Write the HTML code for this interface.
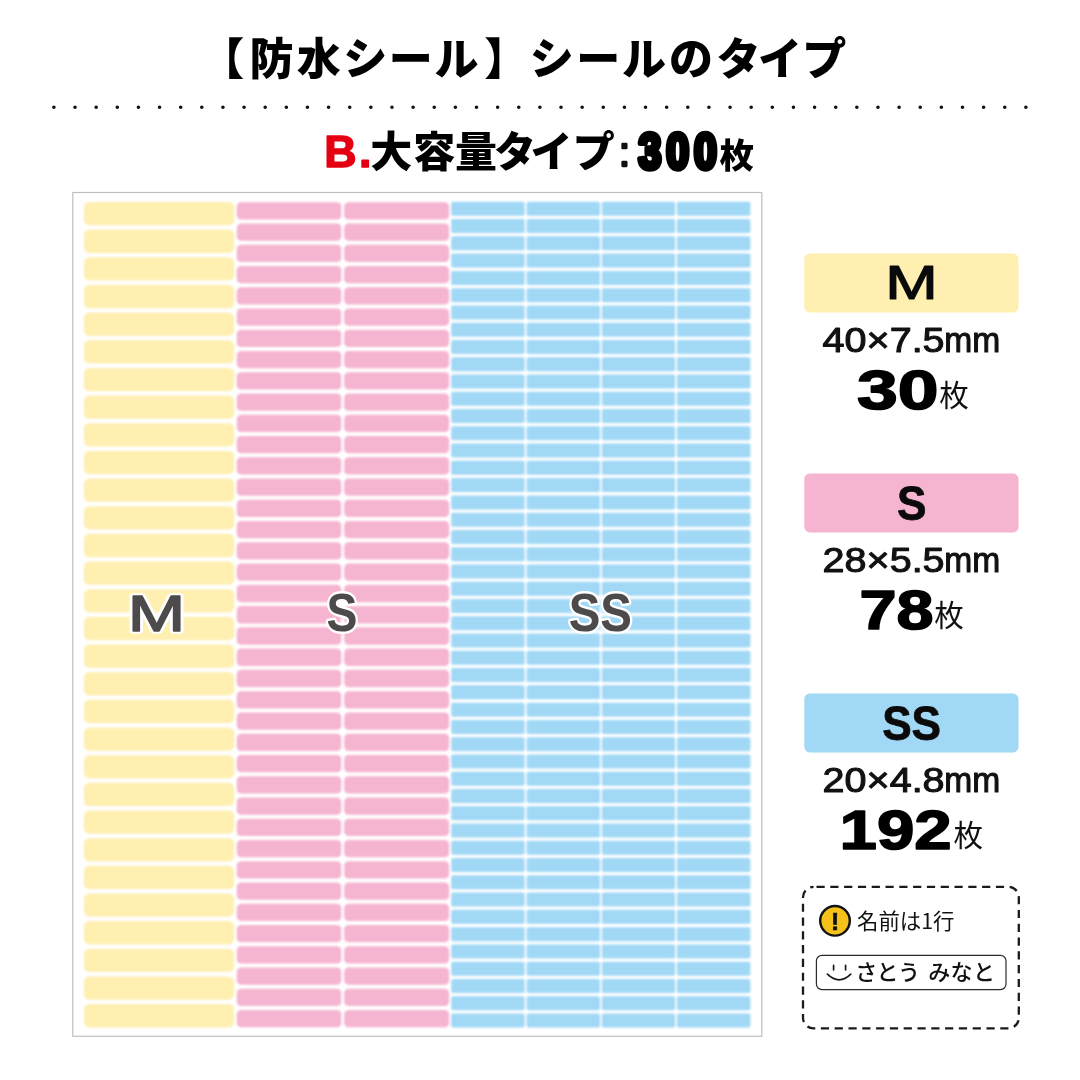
<!DOCTYPE html>
<html lang="ja"><head><meta charset="utf-8"><title>【防水シール】シールのタイプ</title>
<style>html,body{margin:0;padding:0;background:#fff}body{width:1080px;height:1080px;overflow:hidden}svg{display:block}text{font-family:"Liberation Sans", "Noto Sans CJK JP", sans-serif}.jp{font-family:"Noto Sans CJK JP", "Liberation Sans", sans-serif}.ls,.ls text{font-family:"Liberation Sans",sans-serif}.y{fill:#FFEFB0}.p{fill:#F5B4D0}.b{fill:#A0D8F6}</style></head><body>
<svg width="1080" height="1080" viewBox="0 0 1080 1080">
<rect width="1080" height="1080" fill="#fff"/>
<g id="title" class="jp" font-weight="900" fill="#000">
<text id="t_title" text-anchor="middle" x="222.2 271.4 318.7 365.3 410.8 456.5 506.3 551.7 598.3 643.9 691 738.5 779.9 824.2" y="75.4" font-size="44">【防水シール】シールのタイプ</text>
</g>
<line id="dots" x1="53.9" y1="107.2" x2="1026.5" y2="107.2" stroke="#111" stroke-width="3.6" stroke-linecap="round" stroke-dasharray="0 21.13"/>
<g id="sub" font-weight="900">
<text id="t_b" x="324.2" y="166.8" font-size="44.8" font-weight="700" fill="#E40011" stroke="#E40011" stroke-width="1.5" stroke-linejoin="round" letter-spacing="2.4" class="ls">B.</text>
<text id="t_sub" class="jp" text-anchor="middle" x="391.3 434.2 476 515 551.6 593.8" y="167" font-size="42" fill="#000">大容量タイプ</text>
<text id="t_colon" class="ls" x="624.4" y="165.85" font-size="41" font-weight="400" text-anchor="middle" fill="#111" stroke="#111" stroke-width="2.3" stroke-linejoin="round">:</text>
<text id="t_300" transform="translate(638.4,169.1) scale(0.822,1)" font-size="49.9" letter-spacing="6.07" font-weight="700" fill="#000" stroke="#000" stroke-width="5.6" stroke-linejoin="round" class="ls">300</text>
<text id="t_mai" class="jp" x="719.4" y="168.2" font-size="34.4" fill="#000">枚</text>
</g>
<g id="sheet">
<rect x="72.8" y="192.5" width="689" height="843.8" fill="#fff" stroke="#BFBFBF" stroke-width="1.2"/>
<defs><filter id="soft" x="-2%" y="-2%" width="104%" height="104%"><feGaussianBlur stdDeviation="0.8"/></filter></defs>
<g filter="url(#soft)">
<g class="y">
<rect x="83.8" y="201.95" width="150.4" height="23.3" rx="5.6"/>
<rect x="83.8" y="229.61" width="150.4" height="23.3" rx="5.6"/>
<rect x="83.8" y="257.27" width="150.4" height="23.3" rx="5.6"/>
<rect x="83.8" y="284.93" width="150.4" height="23.3" rx="5.6"/>
<rect x="83.8" y="312.59" width="150.4" height="23.3" rx="5.6"/>
<rect x="83.8" y="340.25" width="150.4" height="23.3" rx="5.6"/>
<rect x="83.8" y="367.91" width="150.4" height="23.3" rx="5.6"/>
<rect x="83.8" y="395.57" width="150.4" height="23.3" rx="5.6"/>
<rect x="83.8" y="423.23" width="150.4" height="23.3" rx="5.6"/>
<rect x="83.8" y="450.89" width="150.4" height="23.3" rx="5.6"/>
<rect x="83.8" y="478.55" width="150.4" height="23.3" rx="5.6"/>
<rect x="83.8" y="506.21" width="150.4" height="23.3" rx="5.6"/>
<rect x="83.8" y="533.87" width="150.4" height="23.3" rx="5.6"/>
<rect x="83.8" y="561.53" width="150.4" height="23.3" rx="5.6"/>
<rect x="83.8" y="589.19" width="150.4" height="23.3" rx="5.6"/>
<rect x="83.8" y="616.85" width="150.4" height="23.3" rx="5.6"/>
<rect x="83.8" y="644.51" width="150.4" height="23.3" rx="5.6"/>
<rect x="83.8" y="672.17" width="150.4" height="23.3" rx="5.6"/>
<rect x="83.8" y="699.83" width="150.4" height="23.3" rx="5.6"/>
<rect x="83.8" y="727.49" width="150.4" height="23.3" rx="5.6"/>
<rect x="83.8" y="755.15" width="150.4" height="23.3" rx="5.6"/>
<rect x="83.8" y="782.81" width="150.4" height="23.3" rx="5.6"/>
<rect x="83.8" y="810.47" width="150.4" height="23.3" rx="5.6"/>
<rect x="83.8" y="838.13" width="150.4" height="23.3" rx="5.6"/>
<rect x="83.8" y="865.79" width="150.4" height="23.3" rx="5.6"/>
<rect x="83.8" y="893.45" width="150.4" height="23.3" rx="5.6"/>
<rect x="83.8" y="921.11" width="150.4" height="23.3" rx="5.6"/>
<rect x="83.8" y="948.77" width="150.4" height="23.3" rx="5.6"/>
<rect x="83.8" y="976.43" width="150.4" height="23.3" rx="5.6"/>
<rect x="83.8" y="1004.09" width="150.4" height="23.3" rx="5.6"/>
</g><g class="p">
<rect x="236.8" y="202.15" width="104.5" height="17.3" rx="4.3"/><rect x="344.2" y="202.15" width="104.9" height="17.3" rx="4.3"/>
<rect x="236.8" y="223.41" width="104.5" height="17.3" rx="4.3"/><rect x="344.2" y="223.41" width="104.9" height="17.3" rx="4.3"/>
<rect x="236.8" y="244.67" width="104.5" height="17.3" rx="4.3"/><rect x="344.2" y="244.67" width="104.9" height="17.3" rx="4.3"/>
<rect x="236.8" y="265.93" width="104.5" height="17.3" rx="4.3"/><rect x="344.2" y="265.93" width="104.9" height="17.3" rx="4.3"/>
<rect x="236.8" y="287.19" width="104.5" height="17.3" rx="4.3"/><rect x="344.2" y="287.19" width="104.9" height="17.3" rx="4.3"/>
<rect x="236.8" y="308.45" width="104.5" height="17.3" rx="4.3"/><rect x="344.2" y="308.45" width="104.9" height="17.3" rx="4.3"/>
<rect x="236.8" y="329.71" width="104.5" height="17.3" rx="4.3"/><rect x="344.2" y="329.71" width="104.9" height="17.3" rx="4.3"/>
<rect x="236.8" y="350.97" width="104.5" height="17.3" rx="4.3"/><rect x="344.2" y="350.97" width="104.9" height="17.3" rx="4.3"/>
<rect x="236.8" y="372.23" width="104.5" height="17.3" rx="4.3"/><rect x="344.2" y="372.23" width="104.9" height="17.3" rx="4.3"/>
<rect x="236.8" y="393.49" width="104.5" height="17.3" rx="4.3"/><rect x="344.2" y="393.49" width="104.9" height="17.3" rx="4.3"/>
<rect x="236.8" y="414.75" width="104.5" height="17.3" rx="4.3"/><rect x="344.2" y="414.75" width="104.9" height="17.3" rx="4.3"/>
<rect x="236.8" y="436.01" width="104.5" height="17.3" rx="4.3"/><rect x="344.2" y="436.01" width="104.9" height="17.3" rx="4.3"/>
<rect x="236.8" y="457.27" width="104.5" height="17.3" rx="4.3"/><rect x="344.2" y="457.27" width="104.9" height="17.3" rx="4.3"/>
<rect x="236.8" y="478.53" width="104.5" height="17.3" rx="4.3"/><rect x="344.2" y="478.53" width="104.9" height="17.3" rx="4.3"/>
<rect x="236.8" y="499.79" width="104.5" height="17.3" rx="4.3"/><rect x="344.2" y="499.79" width="104.9" height="17.3" rx="4.3"/>
<rect x="236.8" y="521.05" width="104.5" height="17.3" rx="4.3"/><rect x="344.2" y="521.05" width="104.9" height="17.3" rx="4.3"/>
<rect x="236.8" y="542.31" width="104.5" height="17.3" rx="4.3"/><rect x="344.2" y="542.31" width="104.9" height="17.3" rx="4.3"/>
<rect x="236.8" y="563.57" width="104.5" height="17.3" rx="4.3"/><rect x="344.2" y="563.57" width="104.9" height="17.3" rx="4.3"/>
<rect x="236.8" y="584.83" width="104.5" height="17.3" rx="4.3"/><rect x="344.2" y="584.83" width="104.9" height="17.3" rx="4.3"/>
<rect x="236.8" y="606.09" width="104.5" height="17.3" rx="4.3"/><rect x="344.2" y="606.09" width="104.9" height="17.3" rx="4.3"/>
<rect x="236.8" y="627.35" width="104.5" height="17.3" rx="4.3"/><rect x="344.2" y="627.35" width="104.9" height="17.3" rx="4.3"/>
<rect x="236.8" y="648.61" width="104.5" height="17.3" rx="4.3"/><rect x="344.2" y="648.61" width="104.9" height="17.3" rx="4.3"/>
<rect x="236.8" y="669.87" width="104.5" height="17.3" rx="4.3"/><rect x="344.2" y="669.87" width="104.9" height="17.3" rx="4.3"/>
<rect x="236.8" y="691.13" width="104.5" height="17.3" rx="4.3"/><rect x="344.2" y="691.13" width="104.9" height="17.3" rx="4.3"/>
<rect x="236.8" y="712.39" width="104.5" height="17.3" rx="4.3"/><rect x="344.2" y="712.39" width="104.9" height="17.3" rx="4.3"/>
<rect x="236.8" y="733.65" width="104.5" height="17.3" rx="4.3"/><rect x="344.2" y="733.65" width="104.9" height="17.3" rx="4.3"/>
<rect x="236.8" y="754.91" width="104.5" height="17.3" rx="4.3"/><rect x="344.2" y="754.91" width="104.9" height="17.3" rx="4.3"/>
<rect x="236.8" y="776.17" width="104.5" height="17.3" rx="4.3"/><rect x="344.2" y="776.17" width="104.9" height="17.3" rx="4.3"/>
<rect x="236.8" y="797.43" width="104.5" height="17.3" rx="4.3"/><rect x="344.2" y="797.43" width="104.9" height="17.3" rx="4.3"/>
<rect x="236.8" y="818.69" width="104.5" height="17.3" rx="4.3"/><rect x="344.2" y="818.69" width="104.9" height="17.3" rx="4.3"/>
<rect x="236.8" y="839.95" width="104.5" height="17.3" rx="4.3"/><rect x="344.2" y="839.95" width="104.9" height="17.3" rx="4.3"/>
<rect x="236.8" y="861.21" width="104.5" height="17.3" rx="4.3"/><rect x="344.2" y="861.21" width="104.9" height="17.3" rx="4.3"/>
<rect x="236.8" y="882.47" width="104.5" height="17.3" rx="4.3"/><rect x="344.2" y="882.47" width="104.9" height="17.3" rx="4.3"/>
<rect x="236.8" y="903.73" width="104.5" height="17.3" rx="4.3"/><rect x="344.2" y="903.73" width="104.9" height="17.3" rx="4.3"/>
<rect x="236.8" y="924.99" width="104.5" height="17.3" rx="4.3"/><rect x="344.2" y="924.99" width="104.9" height="17.3" rx="4.3"/>
<rect x="236.8" y="946.25" width="104.5" height="17.3" rx="4.3"/><rect x="344.2" y="946.25" width="104.9" height="17.3" rx="4.3"/>
<rect x="236.8" y="967.51" width="104.5" height="17.3" rx="4.3"/><rect x="344.2" y="967.51" width="104.9" height="17.3" rx="4.3"/>
<rect x="236.8" y="988.77" width="104.5" height="17.3" rx="4.3"/><rect x="344.2" y="988.77" width="104.9" height="17.3" rx="4.3"/>
<rect x="236.8" y="1010.03" width="104.5" height="17.3" rx="4.3"/><rect x="344.2" y="1010.03" width="104.9" height="17.3" rx="4.3"/>
</g><g class="b">
<rect x="451.2" y="201.8" width="73.4" height="14" rx="1.7"/><rect x="526.6" y="201.8" width="73.4" height="14" rx="1.7"/><rect x="601.8" y="201.8" width="73.4" height="14" rx="1.7"/><rect x="677" y="201.8" width="73.4" height="14" rx="1.7"/>
<rect x="451.2" y="219.07" width="73.4" height="14" rx="1.7"/><rect x="526.6" y="219.07" width="73.4" height="14" rx="1.7"/><rect x="601.8" y="219.07" width="73.4" height="14" rx="1.7"/><rect x="677" y="219.07" width="73.4" height="14" rx="1.7"/>
<rect x="451.2" y="236.34" width="73.4" height="14" rx="1.7"/><rect x="526.6" y="236.34" width="73.4" height="14" rx="1.7"/><rect x="601.8" y="236.34" width="73.4" height="14" rx="1.7"/><rect x="677" y="236.34" width="73.4" height="14" rx="1.7"/>
<rect x="451.2" y="253.61" width="73.4" height="14" rx="1.7"/><rect x="526.6" y="253.61" width="73.4" height="14" rx="1.7"/><rect x="601.8" y="253.61" width="73.4" height="14" rx="1.7"/><rect x="677" y="253.61" width="73.4" height="14" rx="1.7"/>
<rect x="451.2" y="270.88" width="73.4" height="14" rx="1.7"/><rect x="526.6" y="270.88" width="73.4" height="14" rx="1.7"/><rect x="601.8" y="270.88" width="73.4" height="14" rx="1.7"/><rect x="677" y="270.88" width="73.4" height="14" rx="1.7"/>
<rect x="451.2" y="288.15" width="73.4" height="14" rx="1.7"/><rect x="526.6" y="288.15" width="73.4" height="14" rx="1.7"/><rect x="601.8" y="288.15" width="73.4" height="14" rx="1.7"/><rect x="677" y="288.15" width="73.4" height="14" rx="1.7"/>
<rect x="451.2" y="305.42" width="73.4" height="14" rx="1.7"/><rect x="526.6" y="305.42" width="73.4" height="14" rx="1.7"/><rect x="601.8" y="305.42" width="73.4" height="14" rx="1.7"/><rect x="677" y="305.42" width="73.4" height="14" rx="1.7"/>
<rect x="451.2" y="322.69" width="73.4" height="14" rx="1.7"/><rect x="526.6" y="322.69" width="73.4" height="14" rx="1.7"/><rect x="601.8" y="322.69" width="73.4" height="14" rx="1.7"/><rect x="677" y="322.69" width="73.4" height="14" rx="1.7"/>
<rect x="451.2" y="339.96" width="73.4" height="14" rx="1.7"/><rect x="526.6" y="339.96" width="73.4" height="14" rx="1.7"/><rect x="601.8" y="339.96" width="73.4" height="14" rx="1.7"/><rect x="677" y="339.96" width="73.4" height="14" rx="1.7"/>
<rect x="451.2" y="357.23" width="73.4" height="14" rx="1.7"/><rect x="526.6" y="357.23" width="73.4" height="14" rx="1.7"/><rect x="601.8" y="357.23" width="73.4" height="14" rx="1.7"/><rect x="677" y="357.23" width="73.4" height="14" rx="1.7"/>
<rect x="451.2" y="374.5" width="73.4" height="14" rx="1.7"/><rect x="526.6" y="374.5" width="73.4" height="14" rx="1.7"/><rect x="601.8" y="374.5" width="73.4" height="14" rx="1.7"/><rect x="677" y="374.5" width="73.4" height="14" rx="1.7"/>
<rect x="451.2" y="391.77" width="73.4" height="14" rx="1.7"/><rect x="526.6" y="391.77" width="73.4" height="14" rx="1.7"/><rect x="601.8" y="391.77" width="73.4" height="14" rx="1.7"/><rect x="677" y="391.77" width="73.4" height="14" rx="1.7"/>
<rect x="451.2" y="409.04" width="73.4" height="14" rx="1.7"/><rect x="526.6" y="409.04" width="73.4" height="14" rx="1.7"/><rect x="601.8" y="409.04" width="73.4" height="14" rx="1.7"/><rect x="677" y="409.04" width="73.4" height="14" rx="1.7"/>
<rect x="451.2" y="426.31" width="73.4" height="14" rx="1.7"/><rect x="526.6" y="426.31" width="73.4" height="14" rx="1.7"/><rect x="601.8" y="426.31" width="73.4" height="14" rx="1.7"/><rect x="677" y="426.31" width="73.4" height="14" rx="1.7"/>
<rect x="451.2" y="443.58" width="73.4" height="14" rx="1.7"/><rect x="526.6" y="443.58" width="73.4" height="14" rx="1.7"/><rect x="601.8" y="443.58" width="73.4" height="14" rx="1.7"/><rect x="677" y="443.58" width="73.4" height="14" rx="1.7"/>
<rect x="451.2" y="460.85" width="73.4" height="14" rx="1.7"/><rect x="526.6" y="460.85" width="73.4" height="14" rx="1.7"/><rect x="601.8" y="460.85" width="73.4" height="14" rx="1.7"/><rect x="677" y="460.85" width="73.4" height="14" rx="1.7"/>
<rect x="451.2" y="478.12" width="73.4" height="14" rx="1.7"/><rect x="526.6" y="478.12" width="73.4" height="14" rx="1.7"/><rect x="601.8" y="478.12" width="73.4" height="14" rx="1.7"/><rect x="677" y="478.12" width="73.4" height="14" rx="1.7"/>
<rect x="451.2" y="495.39" width="73.4" height="14" rx="1.7"/><rect x="526.6" y="495.39" width="73.4" height="14" rx="1.7"/><rect x="601.8" y="495.39" width="73.4" height="14" rx="1.7"/><rect x="677" y="495.39" width="73.4" height="14" rx="1.7"/>
<rect x="451.2" y="512.66" width="73.4" height="14" rx="1.7"/><rect x="526.6" y="512.66" width="73.4" height="14" rx="1.7"/><rect x="601.8" y="512.66" width="73.4" height="14" rx="1.7"/><rect x="677" y="512.66" width="73.4" height="14" rx="1.7"/>
<rect x="451.2" y="529.93" width="73.4" height="14" rx="1.7"/><rect x="526.6" y="529.93" width="73.4" height="14" rx="1.7"/><rect x="601.8" y="529.93" width="73.4" height="14" rx="1.7"/><rect x="677" y="529.93" width="73.4" height="14" rx="1.7"/>
<rect x="451.2" y="547.2" width="73.4" height="14" rx="1.7"/><rect x="526.6" y="547.2" width="73.4" height="14" rx="1.7"/><rect x="601.8" y="547.2" width="73.4" height="14" rx="1.7"/><rect x="677" y="547.2" width="73.4" height="14" rx="1.7"/>
<rect x="451.2" y="564.47" width="73.4" height="14" rx="1.7"/><rect x="526.6" y="564.47" width="73.4" height="14" rx="1.7"/><rect x="601.8" y="564.47" width="73.4" height="14" rx="1.7"/><rect x="677" y="564.47" width="73.4" height="14" rx="1.7"/>
<rect x="451.2" y="581.74" width="73.4" height="14" rx="1.7"/><rect x="526.6" y="581.74" width="73.4" height="14" rx="1.7"/><rect x="601.8" y="581.74" width="73.4" height="14" rx="1.7"/><rect x="677" y="581.74" width="73.4" height="14" rx="1.7"/>
<rect x="451.2" y="599.01" width="73.4" height="14" rx="1.7"/><rect x="526.6" y="599.01" width="73.4" height="14" rx="1.7"/><rect x="601.8" y="599.01" width="73.4" height="14" rx="1.7"/><rect x="677" y="599.01" width="73.4" height="14" rx="1.7"/>
<rect x="451.2" y="616.28" width="73.4" height="14" rx="1.7"/><rect x="526.6" y="616.28" width="73.4" height="14" rx="1.7"/><rect x="601.8" y="616.28" width="73.4" height="14" rx="1.7"/><rect x="677" y="616.28" width="73.4" height="14" rx="1.7"/>
<rect x="451.2" y="633.55" width="73.4" height="14" rx="1.7"/><rect x="526.6" y="633.55" width="73.4" height="14" rx="1.7"/><rect x="601.8" y="633.55" width="73.4" height="14" rx="1.7"/><rect x="677" y="633.55" width="73.4" height="14" rx="1.7"/>
<rect x="451.2" y="650.82" width="73.4" height="14" rx="1.7"/><rect x="526.6" y="650.82" width="73.4" height="14" rx="1.7"/><rect x="601.8" y="650.82" width="73.4" height="14" rx="1.7"/><rect x="677" y="650.82" width="73.4" height="14" rx="1.7"/>
<rect x="451.2" y="668.09" width="73.4" height="14" rx="1.7"/><rect x="526.6" y="668.09" width="73.4" height="14" rx="1.7"/><rect x="601.8" y="668.09" width="73.4" height="14" rx="1.7"/><rect x="677" y="668.09" width="73.4" height="14" rx="1.7"/>
<rect x="451.2" y="685.36" width="73.4" height="14" rx="1.7"/><rect x="526.6" y="685.36" width="73.4" height="14" rx="1.7"/><rect x="601.8" y="685.36" width="73.4" height="14" rx="1.7"/><rect x="677" y="685.36" width="73.4" height="14" rx="1.7"/>
<rect x="451.2" y="702.63" width="73.4" height="14" rx="1.7"/><rect x="526.6" y="702.63" width="73.4" height="14" rx="1.7"/><rect x="601.8" y="702.63" width="73.4" height="14" rx="1.7"/><rect x="677" y="702.63" width="73.4" height="14" rx="1.7"/>
<rect x="451.2" y="719.9" width="73.4" height="14" rx="1.7"/><rect x="526.6" y="719.9" width="73.4" height="14" rx="1.7"/><rect x="601.8" y="719.9" width="73.4" height="14" rx="1.7"/><rect x="677" y="719.9" width="73.4" height="14" rx="1.7"/>
<rect x="451.2" y="737.17" width="73.4" height="14" rx="1.7"/><rect x="526.6" y="737.17" width="73.4" height="14" rx="1.7"/><rect x="601.8" y="737.17" width="73.4" height="14" rx="1.7"/><rect x="677" y="737.17" width="73.4" height="14" rx="1.7"/>
<rect x="451.2" y="754.44" width="73.4" height="14" rx="1.7"/><rect x="526.6" y="754.44" width="73.4" height="14" rx="1.7"/><rect x="601.8" y="754.44" width="73.4" height="14" rx="1.7"/><rect x="677" y="754.44" width="73.4" height="14" rx="1.7"/>
<rect x="451.2" y="771.71" width="73.4" height="14" rx="1.7"/><rect x="526.6" y="771.71" width="73.4" height="14" rx="1.7"/><rect x="601.8" y="771.71" width="73.4" height="14" rx="1.7"/><rect x="677" y="771.71" width="73.4" height="14" rx="1.7"/>
<rect x="451.2" y="788.98" width="73.4" height="14" rx="1.7"/><rect x="526.6" y="788.98" width="73.4" height="14" rx="1.7"/><rect x="601.8" y="788.98" width="73.4" height="14" rx="1.7"/><rect x="677" y="788.98" width="73.4" height="14" rx="1.7"/>
<rect x="451.2" y="806.25" width="73.4" height="14" rx="1.7"/><rect x="526.6" y="806.25" width="73.4" height="14" rx="1.7"/><rect x="601.8" y="806.25" width="73.4" height="14" rx="1.7"/><rect x="677" y="806.25" width="73.4" height="14" rx="1.7"/>
<rect x="451.2" y="823.52" width="73.4" height="14" rx="1.7"/><rect x="526.6" y="823.52" width="73.4" height="14" rx="1.7"/><rect x="601.8" y="823.52" width="73.4" height="14" rx="1.7"/><rect x="677" y="823.52" width="73.4" height="14" rx="1.7"/>
<rect x="451.2" y="840.79" width="73.4" height="14" rx="1.7"/><rect x="526.6" y="840.79" width="73.4" height="14" rx="1.7"/><rect x="601.8" y="840.79" width="73.4" height="14" rx="1.7"/><rect x="677" y="840.79" width="73.4" height="14" rx="1.7"/>
<rect x="451.2" y="858.06" width="73.4" height="14" rx="1.7"/><rect x="526.6" y="858.06" width="73.4" height="14" rx="1.7"/><rect x="601.8" y="858.06" width="73.4" height="14" rx="1.7"/><rect x="677" y="858.06" width="73.4" height="14" rx="1.7"/>
<rect x="451.2" y="875.33" width="73.4" height="14" rx="1.7"/><rect x="526.6" y="875.33" width="73.4" height="14" rx="1.7"/><rect x="601.8" y="875.33" width="73.4" height="14" rx="1.7"/><rect x="677" y="875.33" width="73.4" height="14" rx="1.7"/>
<rect x="451.2" y="892.6" width="73.4" height="14" rx="1.7"/><rect x="526.6" y="892.6" width="73.4" height="14" rx="1.7"/><rect x="601.8" y="892.6" width="73.4" height="14" rx="1.7"/><rect x="677" y="892.6" width="73.4" height="14" rx="1.7"/>
<rect x="451.2" y="909.87" width="73.4" height="14" rx="1.7"/><rect x="526.6" y="909.87" width="73.4" height="14" rx="1.7"/><rect x="601.8" y="909.87" width="73.4" height="14" rx="1.7"/><rect x="677" y="909.87" width="73.4" height="14" rx="1.7"/>
<rect x="451.2" y="927.14" width="73.4" height="14" rx="1.7"/><rect x="526.6" y="927.14" width="73.4" height="14" rx="1.7"/><rect x="601.8" y="927.14" width="73.4" height="14" rx="1.7"/><rect x="677" y="927.14" width="73.4" height="14" rx="1.7"/>
<rect x="451.2" y="944.41" width="73.4" height="14" rx="1.7"/><rect x="526.6" y="944.41" width="73.4" height="14" rx="1.7"/><rect x="601.8" y="944.41" width="73.4" height="14" rx="1.7"/><rect x="677" y="944.41" width="73.4" height="14" rx="1.7"/>
<rect x="451.2" y="961.68" width="73.4" height="14" rx="1.7"/><rect x="526.6" y="961.68" width="73.4" height="14" rx="1.7"/><rect x="601.8" y="961.68" width="73.4" height="14" rx="1.7"/><rect x="677" y="961.68" width="73.4" height="14" rx="1.7"/>
<rect x="451.2" y="978.95" width="73.4" height="14" rx="1.7"/><rect x="526.6" y="978.95" width="73.4" height="14" rx="1.7"/><rect x="601.8" y="978.95" width="73.4" height="14" rx="1.7"/><rect x="677" y="978.95" width="73.4" height="14" rx="1.7"/>
<rect x="451.2" y="996.22" width="73.4" height="14" rx="1.7"/><rect x="526.6" y="996.22" width="73.4" height="14" rx="1.7"/><rect x="601.8" y="996.22" width="73.4" height="14" rx="1.7"/><rect x="677" y="996.22" width="73.4" height="14" rx="1.7"/>
<rect x="451.2" y="1013.49" width="73.4" height="14" rx="1.7"/><rect x="526.6" y="1013.49" width="73.4" height="14" rx="1.7"/><rect x="601.8" y="1013.49" width="73.4" height="14" rx="1.7"/><rect x="677" y="1013.49" width="73.4" height="14" rx="1.7"/>
</g>
</g>
<g id="ov" font-weight="700" font-size="53" fill="#4D4A4B" stroke="#fff" stroke-width="5" stroke-linejoin="round" paint-order="stroke" text-anchor="middle" class="ls">
<g id="o_m" transform="translate(156.6,630.6) scale(1.37,1)" font-size="50.4" font-weight="400"><text stroke-width="5.6">M</text><text stroke="#4D4A4B" stroke-width="1.4">M</text></g>
<text id="o_s" transform="translate(341.9,631.4) scale(0.876,1)">S</text>
<text id="o_ss" transform="translate(600.3,631.4) scale(0.896,1)">SS</text>
</g>
</g>
<g id="lg1">
<rect class="y" x="804.3" y="253.6" width="214.2" height="58.8" rx="5.5"/>
<text id="lg1_n" transform="translate(911.6,299.4) scale(1.33,1)" text-anchor="middle" font-size="47.4" font-weight="400" fill="#0a0a0a" stroke="#0a0a0a" stroke-width="1.4" stroke-linejoin="round" vector-effect="non-scaling-stroke" class="ls">M</text>
<g id="lg1_s" font-size="34.8" fill="#111" stroke="#111" stroke-width="1.05" stroke-linejoin="round" class="ls">
<text transform="translate(822.6,351.6) scale(1.136,1)">40×7.5</text>
<text transform="translate(944.3,351.6) scale(0.965,1)">mm</text>
</g>
<text id="lg1_c" transform="translate(857,409.2) scale(1.31,1)" font-size="56" letter-spacing="0" font-weight="700" fill="#000" stroke="#000" stroke-width="1.6" stroke-linejoin="round" class="ls">30</text>
<text id="lg1_m" class="jp" x="939.2" y="406.4" font-size="29.6" font-weight="400" fill="#111">枚</text>
</g>
<g id="lg2">
<rect class="p" x="804.3" y="473.6" width="214.2" height="58.8" rx="5.5"/>
<text id="lg2_n" transform="translate(911.6,519.8) scale(0.92,1)" text-anchor="middle" font-size="48" font-weight="700" fill="#0a0a0a" stroke="#0a0a0a" stroke-width="0.8" stroke-linejoin="round" class="ls">S</text>
<g id="lg2_s" font-size="34.8" fill="#111" stroke="#111" stroke-width="1.05" stroke-linejoin="round" class="ls">
<text transform="translate(822.6,571.6) scale(1.136,1)">28×5.5</text>
<text transform="translate(944.3,571.6) scale(0.965,1)">mm</text>
</g>
<text id="lg2_c" transform="translate(859.4,629.2) scale(1.19,1)" font-size="56" letter-spacing="0" font-weight="700" fill="#000" stroke="#000" stroke-width="1.6" stroke-linejoin="round" class="ls">78</text>
<text id="lg2_m" class="jp" x="934.3" y="626.4" font-size="29.6" font-weight="400" fill="#111">枚</text>
</g>
<g id="lg3">
<rect class="b" x="804.3" y="693.6" width="214.2" height="58.8" rx="5.5"/>
<text id="lg3_n" transform="translate(911.6,739.8) scale(0.92,1)" text-anchor="middle" font-size="48" font-weight="700" fill="#0a0a0a" stroke="#0a0a0a" stroke-width="0.8" stroke-linejoin="round" class="ls">SS</text>
<g id="lg3_s" font-size="34.8" fill="#111" stroke="#111" stroke-width="1.05" stroke-linejoin="round" class="ls">
<text transform="translate(822.6,791.6) scale(1.136,1)">20×4.8</text>
<text transform="translate(944.3,791.6) scale(0.965,1)">mm</text>
</g>
<text id="lg3_c" transform="translate(839.6,849.2) scale(1.2,1)" font-size="56" letter-spacing="0" font-weight="700" fill="#000" stroke="#000" stroke-width="1.6" stroke-linejoin="round" class="ls">192</text>
<text id="lg3_m" class="jp" x="953.6" y="846.4" font-size="29.6" font-weight="400" fill="#111">枚</text>
</g>
<g id="note">
<rect x="803" y="886.8" width="215.8" height="141.6" rx="10.5" fill="none" stroke="#1a1a1a" stroke-width="2.3" stroke-dasharray="8.2 5.6" stroke-dashoffset="-3"/>
<circle cx="835" cy="920.8" r="14.8" fill="#F6C21A" stroke="#111" stroke-width="2.4"/>
<text id="n_ex" class="ls" x="835.1" y="929.9" text-anchor="middle" font-size="24.6" font-weight="700" fill="#111" stroke="#111" stroke-width="0.7" stroke-linejoin="round">!</text>
<text id="n_t" class="jp" x="857" y="929.2" font-size="21.4" font-weight="400" fill="#111">名前は1行</text>
<rect x="816.4" y="955.4" width="189.6" height="34.2" rx="5.5" fill="#fff" stroke="#2a2a2a" stroke-width="1.2"/>
<g fill="none" stroke="#1a1a1a" stroke-width="1.7" stroke-linecap="round"><path d="M833.6 965.4v4.4M845.6 965.4v4.4"/><path d="M827.4 974.2q11.8 11.4 23.4 0"/></g>
<text id="n_n" class="jp" y="980" font-size="22" font-weight="500" fill="#111"><tspan x="855.2" letter-spacing="-0.6">さとう </tspan><tspan x="928.2" letter-spacing="0.4">みなと</tspan></text>
</g>
</svg></body></html>
